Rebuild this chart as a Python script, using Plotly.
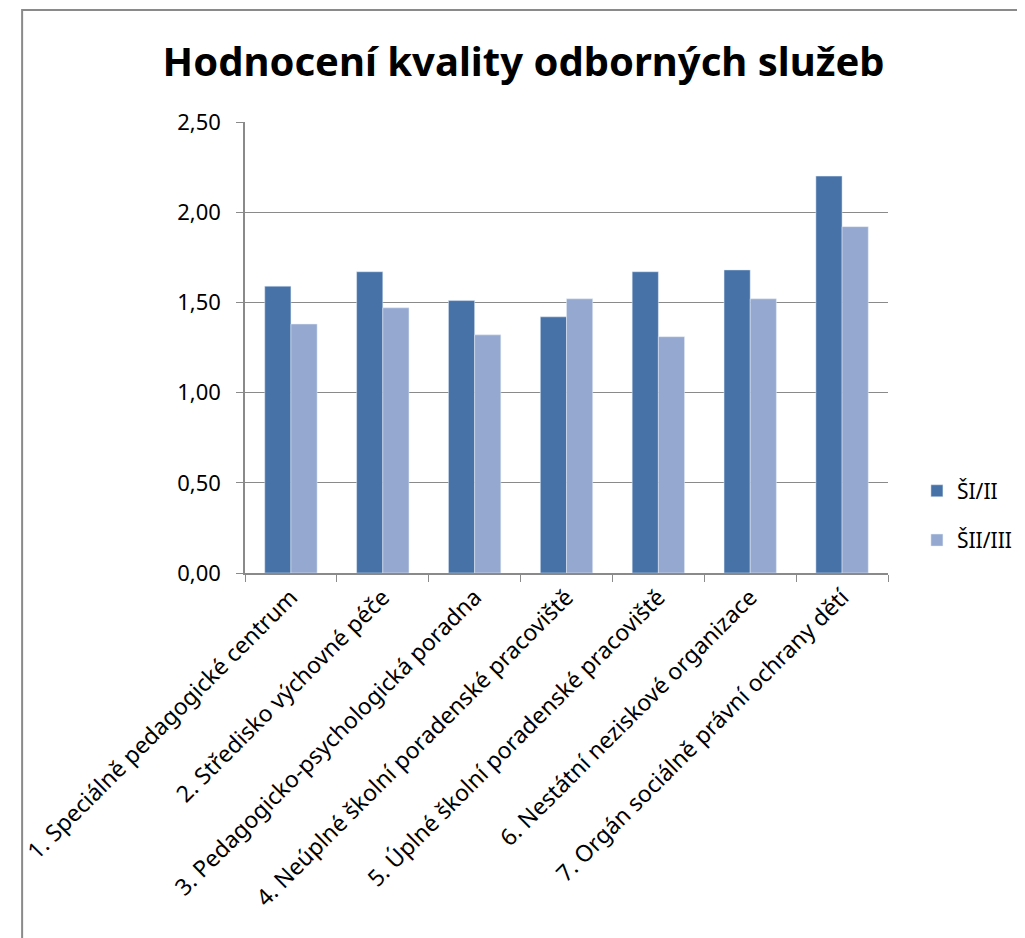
import plotly.graph_objects as go

categories = [
    "1. Speciálně pedagogické centrum",
    "2. Středisko výchovné péče",
    "3. Pedagogicko-psychologická poradna",
    "4. Neúplné školní poradenské pracoviště",
    "5. Úplné školní poradenské pracoviště",
    "6. Nestátní neziskové organizace",
    "7. Orgán sociálně právní ochrany dětí",
]
s1_name = "ŠI/II"
s1_values = [1.59, 1.67, 1.51, 1.42, 1.67, 1.68, 2.20]
s2_name = "ŠII/III"
s2_values = [1.38, 1.47, 1.32, 1.52, 1.31, 1.52, 1.92]
y_ticks = [0, 0.5, 1.0, 1.5, 2.0, 2.5]

font = "Noto Sans"
grey = "#8a8a8a"

# page has an 8px body margin, so the figure is placed at (8, 8)
fig = go.Figure()
fig.add_bar(x=categories, y=s1_values, name=s1_name, marker_color="#4672A7",
            legendgroup="a")
fig.add_bar(x=categories, y=s2_values, name=s2_name, marker_color="#95A9D0",
            legendgroup="b")

fig.update_layout(
    width=1025, height=938,
    margin=dict(l=228, r=145, t=114, b=373),
    plot_bgcolor="white", paper_bgcolor="white",
    separators=", ",
    barmode="group", bargap=0.43, bargroupgap=0,
    font=dict(family=font, size=21, color="black"),
    title=dict(text="<b>Hodnocení kvality odborných služeb</b>",
               x=0.503, xanchor="center", y=1 - 54 / 938, yanchor="middle",
               font=dict(family=font, size=40, color="black")),
    legend=dict(x=1.045, xanchor="left", y=0.227, yanchor="top",
                tracegroupgap=19, font=dict(size=21)),
    showlegend=True,
)
fig.update_yaxes(range=[0, 2.5], tickvals=y_ticks, tickformat=".2f",
                 showgrid=True, gridcolor=grey, gridwidth=1,
                 showline=True, linecolor=grey, linewidth=1.5,
                 ticks="outside", ticklen=7, tickcolor=grey,
                 ticklabelstandoff=11, zeroline=False,
                 tickfont=dict(size=22))
fig.update_xaxes(tickangle=-45, tickson="boundaries", ticks="outside",
                 ticklen=7, tickcolor=grey, showline=True, linecolor=grey,
                 linewidth=1.5, showgrid=False, tickfont=dict(size=23))

# outer chart frame
fig.add_shape(type="rect", xref="paper", yref="paper",
              x0=(10 - 236) / 652, x1=(1060 - 236) / 652,
              y0=(573 - 980) / 451, y1=(573 - 10) / 451,
              line=dict(color=grey, width=2))

fig.write_html("out.html")
